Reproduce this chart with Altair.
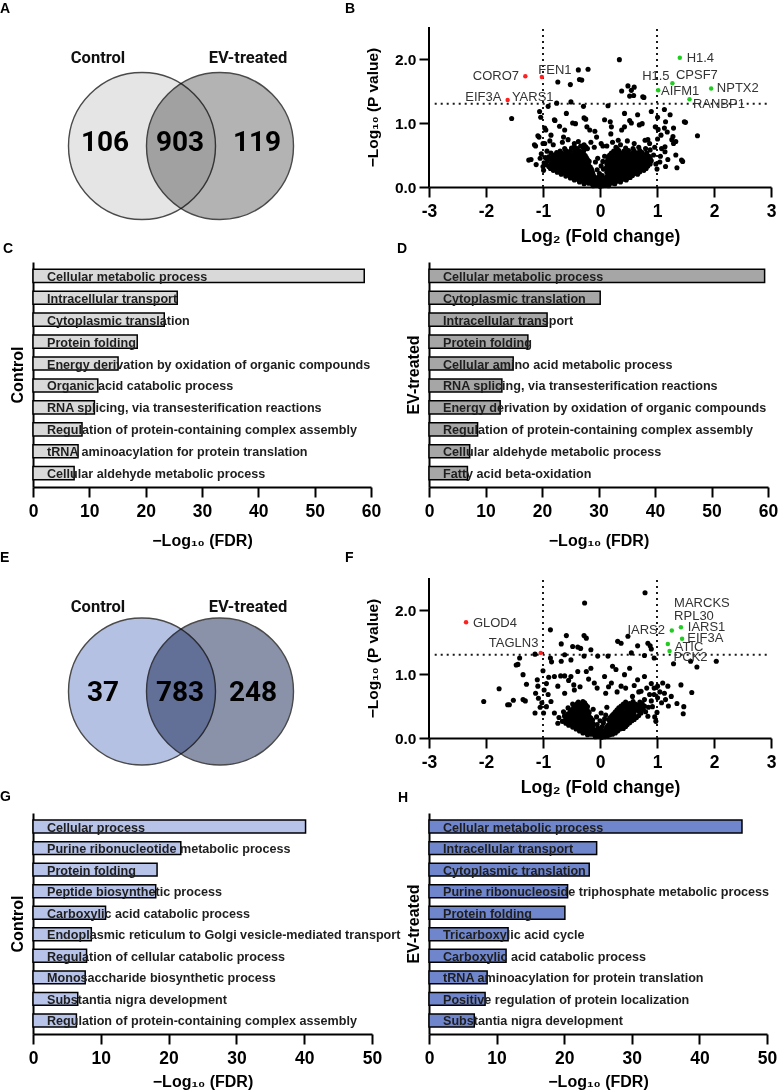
import altair as alt
import pandas as pd

FONT = "Liberation Sans"
VENN_FONT = "Roboto"

# ---------------- Venn diagrams (A, E) ----------------
venn_sets = ["Control", "EV-treated"]
venn_a_counts = [106, 903, 119]
venn_e_counts = [37, 783, 248]

# ---------------- GO enrichment bars (C, D, G, H) ----------------
c_terms = ["Cellular metabolic process", "Intracellular transport", "Cytoplasmic translation",
           "Protein folding", "Energy derivation by oxidation of organic compounds",
           "Organic acid catabolic process", "RNA splicing, via transesterification reactions",
           "Regulation of protein-containing complex assembly",
           "tRNA aminoacylation for protein translation", "Cellular aldehyde metabolic process"]
c_values = [58.8, 25.6, 23.3, 18.5, 15.1, 11.5, 10.9, 8.7, 8.0, 7.3]

d_terms = ["Cellular metabolic process", "Cytoplasmic translation", "Intracellular transport",
           "Protein folding", "Cellular amino acid metabolic process",
           "RNA splicing, via transesterification reactions",
           "Energy derivation by oxidation of organic compounds",
           "Regulation of protein-containing complex assembly",
           "Cellular aldehyde metabolic process", "Fatty acid beta-oxidation"]
d_values = [59.4, 30.3, 20.9, 17.5, 14.9, 12.9, 12.6, 8.6, 7.2, 6.8]

g_terms = ["Cellular process", "Purine ribonucleotide metabolic process", "Protein folding",
           "Peptide biosynthetic process", "Carboxylic acid catabolic process",
           "Endoplasmic reticulum to Golgi vesicle-mediated transport",
           "Regulation of cellular catabolic process", "Monosaccharide biosynthetic process",
           "Substantia nigra development", "Regulation of protein-containing complex assembly"]
g_values = [40.2, 21.8, 18.3, 18.1, 10.7, 8.6, 7.9, 7.7, 6.6, 6.4]

h_terms = ["Cellular metabolic process", "Intracellular transport", "Cytoplasmic translation",
           "Purine ribonucleoside triphosphate metabolic process", "Protein folding",
           "Tricarboxylic acid cycle", "Carboxylic acid catabolic process",
           "tRNA aminoacylation for protein translation",
           "Positive regulation of protein localization", "Substantia nigra development"]
h_values = [46.3, 24.8, 23.7, 20.5, 20.1, 11.7, 11.4, 8.6, 8.3, 6.7]

# ---------------- Volcano thresholds ----------------
fc_thresholds = [-1, 1]
p_threshold = 1.3

# ---------------- Volcano B: proteins (log2 FC, -log10 P) ----------------
b_points = [
    (0.34, 1.99), (-0.38, 1.83), (-0.21, 1.84), (-0.36, 1.68), (-0.32, 1.67), (-0.74, 1.64), (-0.52, 1.60),
    (0.49, 1.58), (0.60, 1.56), (0.38, 1.50), (0.52, 1.42), (0.77, 1.40), (-0.51, 1.33), (-0.29, 1.26),
    (0.14, 1.27), (-0.76, 1.31), (-0.91, 1.26), (-1.06, 1.18), (-1.04, 1.09), (-1.55, 1.07), (1.13, 1.21),
    (1.23, 1.13), (1.48, 1.02), (1.71, 0.80), (1.01, 1.09), (0.90, 1.18), (0.43, 1.15), (0.66, 1.13),
    (0.69, 0.97), (0.55, 1.00), (-0.80, 1.05), (-0.97, 0.92), (-0.71, 0.95), (-0.62, 0.89), (-0.48, 1.00),
    (-0.25, 1.06), (-0.23, 0.94), (0.08, 1.05), (0.20, 0.94), (0.43, 0.94), (-0.09, 0.87), (-1.09, 0.80),
    (-0.86, 0.81), (-1.15, 0.66), (-1.21, 0.43), (-1.12, 0.35), (-0.97, 0.68), (0.97, 0.94), (1.13, 0.92),
    (1.29, 0.92), (1.28, 0.79), (1.33, 0.71), (1.14, 0.63), (1.07, 0.81), (1.01, 0.75), (0.84, 0.74),
    (1.14, 0.55), (1.19, 0.43), (1.35, 0.30), (1.45, 0.40), (1.33, 0.50), (1.15, 0.32),
    (-1.25, 0.42), (-1.13, 0.64), (-1.07, 0.78), (-1.0, 0.68), (-1.0, 0.32), (-0.99, 0.26), (-0.95, 0.89),
    (-0.79, 1.04), (-0.64, 0.78), (-0.59, 1.15), (-0.43, 0.99), (-0.28, 1.08), (-0.18, 0.89), (-0.06, 0.78),
    (0.18, 1.02), (0.19, 0.83), (0.32, 0.73), (0.38, 0.89), (0.52, 1.04), (0.55, 1.51), (0.59, 1.43),
    (0.74, 0.99), (0.75, 1.41), (0.79, 0.73), (0.87, 0.68), (1.02, 0.90), (1.05, 0.39), (1.15, 1.02),
    (1.18, 0.86), (1.26, 0.74), (1.29, 0.68), (1.43, 0.42), (1.50, 1.01),
    (-0.88, 0.72), (-0.82, 0.66), (-0.66, 0.70), (-0.56, 0.74), (-0.45, 0.68), (-0.38, 0.71), (-0.28, 0.66),
    (-0.16, 0.70), (-0.10, 0.62), (0.02, 0.68), (0.12, 0.64), (0.22, 0.70), (0.28, 0.62), (0.36, 0.66),
    (0.48, 0.72), (0.60, 0.68), (0.68, 0.62), (0.80, 0.60), (0.88, 0.58), (0.94, 0.50), (0.96, 0.62),
    (-0.93, 0.56), (-0.96, 0.46), (-0.98, 0.38), (-1.03, 0.52), (-1.05, 0.45), (0.98, 0.36), (1.00, 0.28),
    (1.06, 0.48), (1.08, 0.60),
    (-0.12, .02), (-0.06, .03), (0.0, .01), (0.04, .02), (0.09, .03), (0.15, .02), (-0.02, .04),
    (-0.28, .05), (-0.2, .06), (-0.14, .05), (-0.08, .06), (-0.02, .07), (0.03, .05), (0.08, .06), (0.14, .05),
    (0.2, .06), (0.26, .05),
    (-0.36, .08), (-0.3, .09), (-0.24, .08), (-0.17, .09), (-0.11, .08), (-0.05, .1), (0.06, .09), (0.11, .08),
    (0.17, .09), (0.23, .08), (0.3, .09), (0.36, .08),
    (-0.45, .11), (-0.39, .12), (-0.33, .11), (-0.26, .12), (-0.2, .11), (-0.13, .12), (-0.07, .13), (0.01, .12),
    (0.08, .11), (0.14, .12), (0.2, .11), (0.27, .12), (0.33, .11), (0.4, .12), (0.46, .11),
    (-0.52, .14), (-0.46, .15), (-0.4, .14), (-0.34, .15), (-0.28, .14), (-0.22, .15), (-0.16, .14), (-0.1, .16),
    (-0.03, .15), (0.1, .14), (0.16, .15), (0.23, .14), (0.29, .15), (0.35, .14), (0.41, .15), (0.48, .14),
    (0.53, .15),
    (-0.6, .17), (-0.53, .18), (-0.47, .17), (-0.4, .18), (-0.35, .17), (-0.29, .18), (-0.23, .17), (-0.17, .18),
    (-0.12, .19), (0.04, .18), (0.13, .17), (0.19, .18), (0.25, .17), (0.31, .18), (0.38, .17), (0.44, .18),
    (0.5, .17), (0.57, .18),
    (-0.68, .2), (-0.61, .21), (-0.55, .2), (-0.49, .21), (-0.42, .2), (-0.36, .21), (-0.3, .2), (-0.24, .21),
    (-0.18, .2), (-0.13, .22), (-0.01, .21), (0.15, .2), (0.21, .21), (0.27, .2), (0.34, .21), (0.4, .2),
    (0.46, .21), (0.53, .2), (0.6, .21), (0.66, .2),
    (-0.75, .23), (-0.69, .24), (-0.62, .23), (-0.56, .24), (-0.5, .23), (-0.44, .24), (-0.38, .23), (-0.31, .24),
    (-0.25, .23), (-0.19, .24), (-0.14, .25), (0.12, .23), (0.18, .24), (0.24, .23), (0.3, .24), (0.37, .23),
    (0.43, .24), (0.5, .23), (0.56, .24), (0.63, .23), (0.7, .24),
    (-0.82, .26), (-0.76, .27), (-0.7, .26), (-0.63, .27), (-0.57, .26), (-0.51, .27), (-0.45, .26), (-0.39, .27),
    (-0.33, .26), (-0.27, .27), (-0.21, .26), (-0.15, .28), (-0.05, .27), (0.06, .28), (0.14, .26), (0.2, .27),
    (0.27, .26), (0.33, .27), (0.39, .26), (0.46, .27), (0.52, .26), (0.58, .27), (0.65, .26), (0.71, .27),
    (0.77, .26),
    (-0.87, .29), (-0.8, .3), (-0.74, .29), (-0.67, .3), (-0.61, .29), (-0.55, .3), (-0.48, .29), (-0.42, .3),
    (-0.36, .29), (-0.3, .3), (-0.24, .29), (-0.17, .31), (0.11, .3), (0.17, .29), (0.24, .3), (0.3, .29),
    (0.36, .3), (0.42, .29), (0.49, .3), (0.55, .29), (0.61, .3), (0.68, .29), (0.74, .3), (0.81, .29),
    (-0.9, .32), (-0.83, .33), (-0.77, .32), (-0.71, .33), (-0.64, .32), (-0.58, .33), (-0.51, .32), (-0.45, .33),
    (-0.39, .32), (-0.33, .33), (-0.26, .32), (-0.2, .34), (0.02, .33), (0.14, .32), (0.21, .33), (0.27, .32),
    (0.33, .33), (0.39, .32), (0.45, .33), (0.52, .32), (0.58, .33), (0.64, .32), (0.7, .33), (0.77, .32),
    (0.84, .33),
    (-0.94, .35), (-0.86, .36), (-0.79, .35), (-0.73, .36), (-0.66, .35), (-0.6, .36), (-0.54, .35), (-0.47, .36),
    (-0.41, .35), (-0.35, .36), (-0.28, .35), (-0.22, .37), (0.12, .36), (0.18, .35), (0.25, .36), (0.31, .35),
    (0.37, .36), (0.44, .35), (0.5, .36), (0.56, .35), (0.63, .36), (0.69, .35), (0.75, .36), (0.82, .35),
    (0.88, .36),
    (-0.84, .38), (-0.77, .39), (-0.71, .38), (-0.64, .39), (-0.58, .38), (-0.52, .39), (-0.45, .38), (-0.39, .39),
    (-0.32, .38), (-0.26, .39), (-0.19, .4), (-0.08, .39), (0.05, .4), (0.15, .38), (0.22, .39), (0.28, .38),
    (0.34, .39), (0.41, .38), (0.47, .39), (0.53, .38), (0.6, .39), (0.66, .38), (0.72, .39), (0.79, .38),
    (0.86, .39),
    (-0.92, .41), (-0.81, .42), (-0.74, .41), (-0.68, .42), (-0.61, .41), (-0.55, .42), (-0.48, .41), (-0.42, .42),
    (-0.35, .41), (-0.29, .42), (-0.22, .43), (0.13, .41), (0.2, .42), (0.26, .41), (0.32, .42), (0.39, .41),
    (0.45, .42), (0.51, .41), (0.58, .42), (0.64, .41), (0.7, .42), (0.77, .41), (0.83, .42), (0.9, .41),
    (-0.85, .44), (-0.78, .45), (-0.72, .44), (-0.65, .45), (-0.58, .44), (-0.51, .45), (-0.44, .44), (-0.37, .45),
    (-0.31, .44), (-0.24, .46), (-0.04, .45), (0.16, .44), (0.23, .45), (0.29, .44), (0.36, .45), (0.42, .44),
    (0.49, .45), (0.55, .44), (0.62, .45), (0.68, .44), (0.75, .45), (0.81, .44), (0.88, .45),
    (-0.9, .47), (-0.82, .48), (-0.75, .47), (-0.68, .48), (-0.62, .47), (-0.55, .48), (-0.47, .47), (-0.4, .48),
    (-0.33, .47), (-0.26, .49), (0.08, .48), (0.14, .47), (0.2, .48), (0.27, .47), (0.34, .48), (0.4, .47),
    (0.47, .48), (0.53, .47), (0.6, .48), (0.66, .47), (0.73, .48), (0.8, .47), (0.86, .48),
    (-0.8, .5), (-0.72, .51), (-0.64, .5), (-0.57, .51), (-0.5, .5), (-0.43, .51), (-0.36, .5), (-0.29, .52),
    (0.17, .5), (0.25, .51), (0.32, .5), (0.39, .51), (0.45, .5), (0.52, .51), (0.6, .5), (0.68, .51), (0.76, .5),
    (-0.86, .53), (-0.76, .54), (-0.67, .53), (-0.59, .54), (-0.52, .53), (-0.44, .54), (-0.37, .53), (-0.3, .55),
    (0.2, .53), (0.28, .54), (0.36, .53), (0.43, .54), (0.5, .53), (0.58, .54), (0.65, .53), (0.74, .54),
    (0.82, .53),
    (-0.7, .56), (-0.6, .57), (-0.52, .56), (-0.44, .57), (-0.36, .56), (-0.28, .58), (0.24, .56), (0.33, .57),
    (0.42, .56), (0.5, .57), (0.6, .56), (0.7, .57),
    (-0.62, .6), (-0.5, .61), (-0.4, .6), (-0.3, .62), (-0.22, .6), (0.3, .6), (0.45, .61), (0.58, .6),
    (-0.45, .63), (-0.34, .64), (-0.25, .63), (0.05, .64),
]
b_red_x = [-1.31, -1.02, -1.62]
b_red_y = [1.73, 1.72, 1.36]
b_green_x = [1.40, 1.27, 1.02, 1.95, 1.57]
b_green_y = [2.02, 1.62, 1.51, 1.54, 1.37]
b_lab_names = ["CORO7", "FEN1", "EIF3A", "YARS1", "H1.4", "H1.5", "CPSF7", "AIFM1", "NPTX2", "RANBP1"]
b_lab_x = [-1.42, -0.79, -1.73, -1.18, 1.52, 0.98, 1.70, 1.07, 2.05, 1.63]
b_lab_y = [1.73, 1.83, 1.41, 1.41, 2.01, 1.73, 1.75, 1.50, 1.54, 1.30]
b_lab_align = ["right", "center", "right", "center", "left", "center", "center", "left", "left", "left"]

# ---------------- Volcano F ----------------
f_points = [
    (0.79, 2.27), (-0.27, 2.11), (-0.87, 1.69), (-0.59, 1.60), (-0.28, 1.60), (-0.24, 1.56), (-0.68, 1.47),
    (-0.48, 1.43), (-0.39, 1.42), (-0.34, 1.40), (-0.16, 1.38), (-1.14, 1.31), (-1.41, 1.25), (-1.44, 1.15),
    (-1.35, 0.99), (-1.29, 0.84), (-1.35, 0.60), (-1.52, 0.59), (-1.59, 0.52), (-1.77, 0.77), (-2.04, 0.57),
    (-1.14, 0.39), (-0.99, 0.39), (0.14, 1.28), (0.31, 1.51), (0.37, 1.48), (0.49, 1.59), (0.66, 1.44),
    (0.84, 1.48), (0.88, 1.44), (0.90, 1.39), (0.95, 1.25), (0.55, 1.33), (0.78, 1.29), (1.29, 1.16),
    (1.59, 1.20), (1.70, 1.11), (2.04, 1.20), (1.61, 0.71), (1.42, 0.83), (1.35, 0.54), (1.47, 0.49),
    (1.46, 0.38), (1.25, 0.65), (1.10, 0.86), (1.19, 0.81), (1.01, 0.81), (0.95, 0.68), (0.92, 0.49),
    (0.98, 0.26), (0.84, 0.34), (-0.87, 1.25), (-0.68, 1.20), (-0.62, 1.30), (-0.51, 1.22), (-0.28, 1.28),
    (-0.04, 1.28), (-1.09, 0.81), (-0.91, 0.68), (-0.80, 0.96), (-0.62, 0.97), (-0.51, 0.96), (-0.39, 1.04),
    (-0.24, 1.04), (-0.16, 1.09), (0.08, 0.96), (0.22, 1.12), (0.28, 1.07), (0.43, 0.99), (0.52, 1.09),
    (0.66, 0.91), (0.78, 0.96), (0.37, 0.81), (0.20, 0.86), (-0.10, 0.86), (-0.74, 0.81), (-0.62, 0.70),
    (-0.46, 0.83), (-0.86, 0.57), (-0.94, 0.49), (-0.80, 0.39), (-0.74, 0.23), (-0.62, 0.34), (0.57, 0.65),
    (0.72, 0.73), (0.87, 0.68), (1.01, 0.63), (1.13, 0.70), (0.69, 0.49), (0.78, 0.60),
    (-1.62, 0.52), (-1.47, 1.14), (-1.31, 0.58), (-1.10, 0.91), (-1.13, 0.70), (-0.94, 0.85), (-0.85, 1.19),
    (-0.69, 0.97), (-0.55, 0.90), (-0.45, 0.75), (-0.35, 0.80), (-0.20, 0.92), (-0.05, 0.78), (0.10, 0.70),
    (0.15, 0.80), (0.30, 0.72), (0.45, 0.78), (0.60, 0.82), (0.68, 0.72), (0.82, 0.78), (0.90, 0.85),
    (0.95, 0.78), (1.05, 0.72), (1.15, 0.60), (1.20, 0.50), (1.08, 0.55), (0.90, 0.58), (1.00, 0.40),
    (0.96, 0.33), (-1.02, 0.55), (-1.05, 0.48), (-1.08, 0.62), (-0.98, 0.75), (-0.90, 0.95), (-1.00, 1.05),
    (-0.08, .02), (-0.02, .03), (0.03, .01), (0.08, .02), (0.13, .03), (0.0, .05),
    (-0.22, .05), (-0.16, .06), (-0.1, .05), (-0.04, .07), (0.02, .06), (0.07, .05), (0.12, .06), (0.17, .05),
    (0.22, .06),
    (-0.3, .08), (-0.24, .09), (-0.18, .08), (-0.12, .09), (-0.06, .1), (0.0, .09), (0.05, .08), (0.1, .09),
    (0.15, .08), (0.21, .09), (0.27, .08),
    (-0.36, .11), (-0.3, .12), (-0.24, .11), (-0.18, .12), (-0.12, .11), (-0.07, .13), (0.02, .12), (0.08, .11),
    (0.13, .12), (0.19, .11), (0.25, .12), (0.31, .11),
    (-0.42, .14), (-0.36, .15), (-0.3, .14), (-0.24, .15), (-0.18, .14), (-0.13, .16), (-0.03, .15), (0.11, .14),
    (0.17, .15), (0.23, .14), (0.29, .15), (0.35, .14), (0.41, .15),
    (-0.48, .17), (-0.42, .18), (-0.36, .17), (-0.3, .18), (-0.24, .17), (-0.18, .18), (-0.12, .19), (0.04, .18),
    (0.12, .17), (0.18, .18), (0.25, .17), (0.31, .18), (0.38, .17), (0.45, .18),
    (-0.55, .2), (-0.48, .21), (-0.42, .2), (-0.36, .21), (-0.3, .2), (-0.24, .21), (-0.18, .2), (-0.12, .22),
    (-0.05, .21), (0.14, .2), (0.21, .21), (0.28, .2), (0.34, .21), (0.41, .2), (0.48, .21),
    (-0.6, .23), (-0.52, .24), (-0.46, .23), (-0.4, .24), (-0.34, .23), (-0.28, .24), (-0.22, .23), (-0.16, .25),
    (0.06, .24), (0.17, .23), (0.24, .24), (0.31, .23), (0.38, .24), (0.45, .23), (0.52, .24),
    (-0.66, .26), (-0.56, .27), (-0.5, .26), (-0.43, .27), (-0.37, .26), (-0.31, .27), (-0.25, .26), (-0.19, .27),
    (-0.13, .28), (0.0, .27), (0.2, .26), (0.27, .27), (0.34, .26), (0.41, .27), (0.48, .26), (0.56, .27),
    (-0.6, .29), (-0.53, .3), (-0.46, .29), (-0.4, .3), (-0.34, .29), (-0.28, .3), (-0.22, .29), (-0.16, .31),
    (0.08, .3), (0.15, .29), (0.23, .3), (0.3, .29), (0.37, .3), (0.44, .29), (0.52, .3), (0.6, .29),
    (-0.72, .32), (-0.56, .33), (-0.49, .32), (-0.43, .33), (-0.37, .32), (-0.31, .33), (-0.25, .32), (-0.19, .34),
    (-0.06, .33), (0.18, .32), (0.26, .33), (0.33, .32), (0.4, .33), (0.48, .32), (0.56, .33), (0.64, .32),
    (-0.62, .35), (-0.52, .36), (-0.46, .35), (-0.4, .36), (-0.34, .35), (-0.28, .36), (-0.22, .37), (0.1, .36),
    (0.21, .35), (0.29, .36), (0.36, .35), (0.44, .36), (0.52, .35), (0.6, .36), (0.68, .35),
    (-0.56, .38), (-0.49, .39), (-0.43, .38), (-0.37, .39), (-0.31, .38), (-0.25, .39), (-0.19, .4), (0.02, .39),
    (0.24, .38), (0.32, .39), (0.4, .38), (0.48, .39), (0.56, .38), (0.72, .39),
    (-0.64, .41), (-0.52, .42), (-0.46, .41), (-0.4, .42), (-0.34, .41), (-0.28, .42), (-0.22, .43), (0.27, .41),
    (0.35, .42), (0.43, .41), (0.52, .42), (0.6, .41), (0.68, .42), (0.8, .41),
    (-0.5, .44), (-0.43, .45), (-0.37, .44), (-0.31, .45), (-0.25, .44), (-0.12, .45), (0.3, .44), (0.38, .45),
    (0.47, .44), (0.55, .45), (0.64, .44), (0.76, .45),
    (-0.56, .47), (-0.46, .48), (-0.4, .47), (-0.34, .48), (-0.28, .47), (-0.22, .49), (0.12, .48), (0.33, .47),
    (0.42, .48), (0.5, .47), (0.6, .48), (0.7, .47), (0.85, .48),
    (-0.43, .5), (-0.37, .51), (-0.31, .5), (-0.25, .52), (0.37, .5), (0.46, .51), (0.56, .5), (0.66, .51),
    (0.78, .5),
    (-0.48, .53), (-0.4, .54), (-0.33, .53), (-0.27, .55), (0.41, .53), (0.52, .54), (0.62, .53), (0.74, .54),
    (-0.38, .56), (-0.3, .57), (0.45, .56), (0.58, .57), (0.7, .56),
]
f_red_x = [-2.35, -1.04]
f_red_y = [1.81, 1.33]
f_green_x = [1.42, 1.26, 1.44, 1.19, 1.22]
f_green_y = [1.73, 1.68, 1.55, 1.47, 1.36]
f_lab_names = ["MARCKS", "RPL30", "IARS1", "IARS2", "EIF3A", "ATIC", "PCK2", "GLOD4", "TAGLN3"]
f_lab_x = [1.30, 1.30, 1.54, 1.14, 1.53, 1.31, 1.29, -2.23, -1.08]
f_lab_y = [2.11, 1.91, 1.73, 1.68, 1.56, 1.42, 1.27, 1.80, 1.49]
f_lab_align = ["left", "left", "left", "right", "left", "left", "left", "left", "right"]


# ======================= builders =======================
def letter_layer(ch, dx, dy):
    return alt.Chart(pd.DataFrame({"t": [ch]})).mark_text(
        align="left", baseline="middle", fontSize=14, fontWeight="bold", font=FONT, color="black"
    ).encode(x=alt.value(dx), y=alt.value(dy), text="t:N")


def venn_panel(counts, fills, height, center_from_top, count_x, count_y, label_x, label_rise, letter, ldx, ldy):
    W = 339
    xs = alt.Scale(domain=[-148, W - 148], nice=False, zero=False)
    ys = alt.Scale(domain=[center_from_top - height, center_from_top], nice=False, zero=False)
    X = alt.X("x:Q", scale=xs, axis=None)
    Y = alt.Y("y:Q", scale=ys, axis=None)
    size = (2 * 73.5) ** 2  # Vega circle radius = sqrt(size) / 2
    layers = []
    for cx, fill in zip([-39, 39], fills):
        layers.append(alt.Chart(pd.DataFrame({"x": [cx], "y": [0]})).mark_circle(
            size=size, fill=fill, fillOpacity=1, opacity=1, stroke="#4a4a4a", strokeWidth=1.4,
            blend="multiply").encode(x=X, y=Y))
    nums = pd.DataFrame({"n": [str(c) for c in counts], "x": count_x, "y": [count_y] * 3})
    layers.append(alt.Chart(nums).mark_text(fontSize=28, fontWeight="bold", font=VENN_FONT,
                                            color="black", baseline="middle").encode(x=X, y=Y, text="n:N"))
    labs = pd.DataFrame({"s": venn_sets, "x": label_x, "y": [label_rise] * 2})
    layers.append(alt.Chart(labs).mark_text(fontSize=16.5, fontWeight="bold", font=VENN_FONT,
                                            color="#111", baseline="middle").encode(x=X, y=Y, text="s:N"))
    layers.append(letter_layer(letter, ldx, ldy))
    return alt.layer(*layers).properties(width=W, height=height)


def volcano(points, rx, ry, gx, gy, lnames, lx, ly, lalign, top_extra, letter, ldx, ldy):
    H = 160 + top_extra
    ymax = 2.5 * H / 160
    xs = alt.Scale(domain=[-3, 3], nice=False, zero=False)
    ys = alt.Scale(domain=[0, ymax], nice=False, zero=True)
    xax = alt.Axis(values=[-3, -2, -1, 0, 1, 2, 3], labelExpr="'' + datum.value",
                   title="Log\u2082 (Fold change)", labelFontSize=17.5, titleFontSize=17.5, tickSize=10,
                   labelPadding=5, titlePadding=8, labelFlush=False)
    yax = alt.Axis(values=[0, 0.5, 1, 1.5, 2, 2.5], format=".1f", title="\u2212Log\u2081\u2080 (P value)",
                   domain=False, labelFontSize=15.5, titleFontSize=15.5, tickSize=10, labelPadding=3,
                   titlePadding=14, titleY=top_extra + 80)
    X = alt.X("x:Q", scale=xs, axis=xax)
    Y = alt.Y("y:Q", scale=ys, axis=yax)
    layers = []
    # threshold lines (dotted)
    layers.append(alt.Chart(pd.DataFrame({"y": [p_threshold]})).mark_rule(
        strokeDash=[2, 4], strokeWidth=2, color="#1a1a1a").encode(y=Y, x=alt.datum(-2.9), x2=alt.datum(2.95)))
    layers.append(alt.Chart(pd.DataFrame({"x": fc_thresholds})).mark_rule(
        strokeDash=[2, 4], strokeWidth=2, color="#1a1a1a").encode(x=X, y=alt.datum(0), y2=alt.datum(2.5)))
    # y axis line (stops at the 2.5 tick)
    layers.append(alt.Chart(pd.DataFrame({"x": [-3]})).mark_rule(
        strokeWidth=2, color="black").encode(x=X, y=alt.datum(0), y2=alt.datum(2.5)))
    pdf = pd.DataFrame(points, columns=["x", "y"])
    layers.append(alt.Chart(pdf).mark_circle(size=26, color="black", opacity=1).encode(x=X, y=Y))
    layers.append(alt.Chart(pd.DataFrame({"x": rx, "y": ry})).mark_circle(
        size=20, color="#ff2020", opacity=1).encode(x=X, y=Y))
    layers.append(alt.Chart(pd.DataFrame({"x": gx, "y": gy})).mark_circle(
        size=20, color="#20cc20", opacity=1).encode(x=X, y=Y))
    lab = pd.DataFrame({"t": lnames, "x": lx, "y": ly, "a": lalign})
    for al in ["left", "right", "center"]:
        sub = lab[lab["a"] == al]
        if len(sub):
            layers.append(alt.Chart(sub).mark_text(
                align=al, baseline="middle", fontSize=13, font=FONT, color="#333333").encode(
                x=X, y=Y, text="t:N"))
    layers.append(letter_layer(letter, ldx, ldy))
    return alt.layer(*layers).properties(width=342, height=H)


def bar_panel(terms, values, fill, xmax, width, height, ytitle, title_pad, letter, ldx, ldy):
    df = pd.DataFrame({"term": terms, "value": values})
    ysc = alt.Scale(paddingInner=0.4, paddingOuter=0.33)
    Y = alt.Y("term:N", sort=terms, scale=ysc,
              axis=alt.Axis(labels=False, ticks=False, title=ytitle, titleFontSize=16, titlePadding=8))
    X = alt.X("value:Q", scale=alt.Scale(domain=[0, xmax], nice=False),
              axis=alt.Axis(values=list(range(0, xmax + 1, 10)), title="\u2212Log\u2081\u2080 (FDR)",
                            labelFontSize=17.5, titleFontSize=16, tickSize=10, labelPadding=5,
                            titlePadding=title_pad, labelFlush=False))
    bars = alt.Chart(df).mark_bar(fill=fill, stroke="black", strokeWidth=1.5, opacity=1).encode(x=X, y=Y)
    text = alt.Chart(df).mark_text(align="left", baseline="alphabetic", dy=5, fontSize=12.6,
                                   fontWeight="bold", font=FONT, color="#1e1e1e").encode(
        x=alt.value(14), y=Y, text="term:N")
    return alt.layer(bars, text, letter_layer(letter, ldx, ldy)).properties(width=width, height=height)


A = venn_panel(venn_a_counts, ["#e5e5e5", "#b3b3b3"], 160, 119, [-76, -1, 76], 3, [-83, 67], 88, "A", -33, -18)
B = volcano(b_points, b_red_x, b_red_y, b_green_x, b_green_y, b_lab_names, b_lab_x, b_lab_y, b_lab_align,
            0, "B", -84, -18)
C = bar_panel(c_terms, c_values, "#d9d9d9", 60, 338, 225, "Control", 13, "C", -30, -13)
D = bar_panel(d_terms, d_values, "#a6a6a6", 60, 339, 225, "EV-treated", 13, "D", -32, -13)
E = venn_panel(venn_e_counts, ["#b5c1e3", "#8a92aa"], 176, 129.5, [-78, -1, 72], -1, [-83, 67], 84.5, "E", -33, -4)
F = volcano(f_points, f_red_x, f_red_y, f_green_x, f_green_y, f_lab_names, f_lab_x, f_lab_y, f_lab_align,
            16, "F", -84, -4)
G = bar_panel(g_terms, g_values, "#b7c3e8", 50, 339, 221, "Control", 7, "G", -33, -16)
H = bar_panel(h_terms, h_values, "#7086cc", 50, 338, 221, "EV-treated", 7, "H", -31, -15)

chart = alt.concat(
    A, B, C, D, E, F, G, H,
    columns=2, spacing={"row": 75, "column": 57}, bounds="flush", align="each",
).properties(padding={"top": 2, "left": 0, "right": 0, "bottom": 0}).configure_view(stroke=None).configure_axis(
    grid=False, domainColor="black", domainWidth=2, tickColor="black", tickWidth=2,
    labelColor="black", titleColor="black", labelFont=FONT, titleFont=FONT,
    labelFontWeight="bold", titleFontWeight="bold",
)

chart.save("out.html", embed_options={"renderer": "svg", "actions": False})
